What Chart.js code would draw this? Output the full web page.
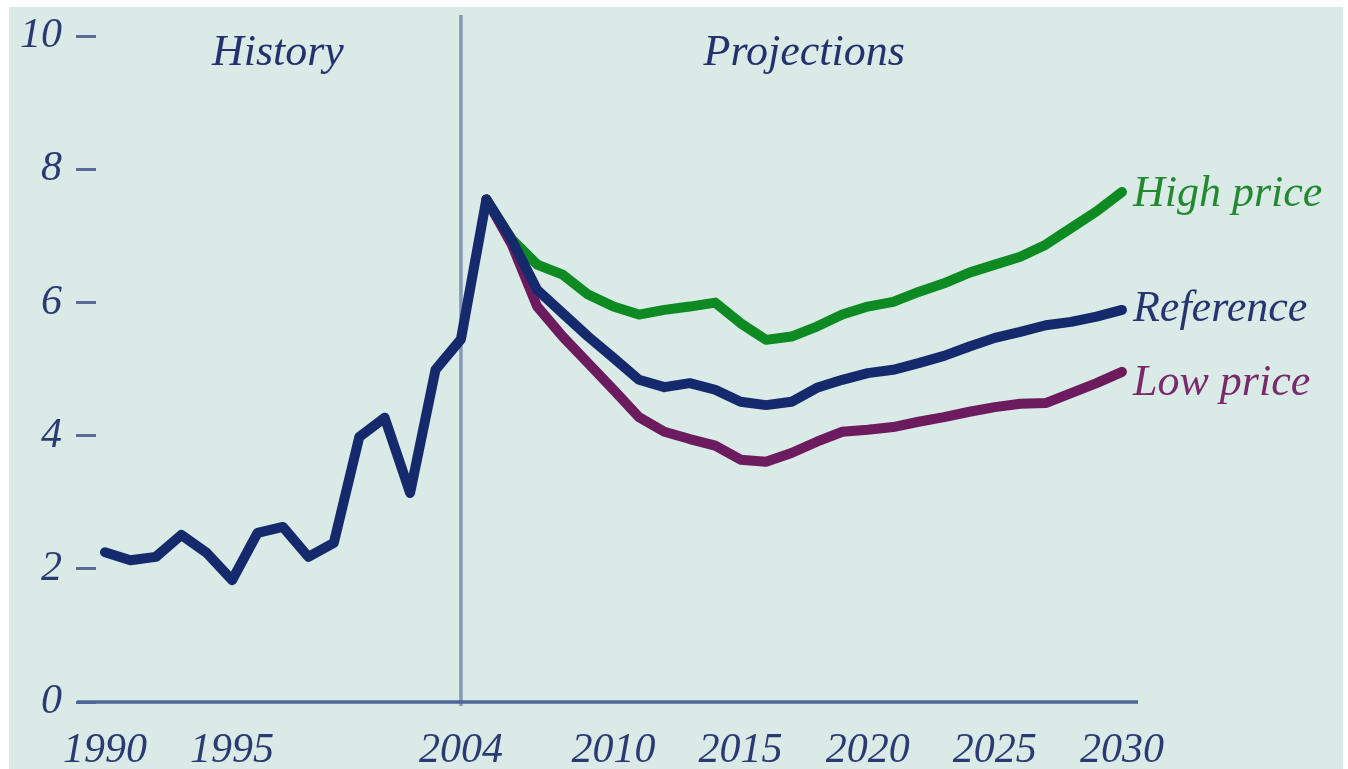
<!DOCTYPE html>
<html>
<head>
<meta charset="utf-8">
<script src="https://cdn.jsdelivr.net/npm/chart.js@4"></script>
<style>
body { margin: 0; background: #fff; }
#wrap { position: absolute; left: 9px; top: 7px; width: 1334px; height: 762px; background: #d9eae7; }
</style>
</head>
<body>
<div id="wrap"><canvas id="myChart" width="1334" height="762"></canvas></div>
<script>
// history (1990-2005)
const histYears = [1990, 1991, 1992, 1993, 1994, 1995, 1996, 1997, 1998, 1999, 2000, 2001, 2002, 2003, 2004, 2005];
const histValues = [2.25, 2.13, 2.18, 2.51, 2.24, 1.83, 2.54, 2.63, 2.18, 2.39, 3.98, 4.27, 3.14, 4.99, 5.45, 7.55];

// projections (2005-2030)
const projYears = [2005, 2006, 2007, 2008, 2009, 2010, 2011, 2012, 2013, 2014, 2015, 2016, 2017, 2018, 2019, 2020,
    2021, 2022, 2023, 2024, 2025, 2026, 2027, 2028, 2029, 2030];
const refValues = [7.55, 6.94, 6.19, 5.84, 5.49, 5.17, 4.84, 4.73, 4.79, 4.69, 4.51, 4.46, 4.51, 4.72, 4.84, 4.94,
    4.99, 5.09, 5.20, 5.34, 5.47, 5.56, 5.66, 5.71, 5.79, 5.89];
const highValues = [7.55, 6.95, 6.57, 6.42, 6.12, 5.94, 5.82, 5.89, 5.94, 6.00, 5.69, 5.44, 5.49, 5.64, 5.82, 5.94,
    6.01, 6.16, 6.29, 6.45, 6.57, 6.69, 6.87, 7.12, 7.37, 7.66];
const lowValues = [7.55, 6.87, 5.94, 5.49, 5.09, 4.69, 4.28, 4.06, 3.95, 3.85, 3.64, 3.61, 3.74, 3.91, 4.06, 4.09,
    4.13, 4.21, 4.28, 4.36, 4.43, 4.48, 4.49, 4.64, 4.79, 4.96];

const xTickYears = [1990, 1995, 2004, 2010, 2015, 2020, 2025, 2030];
const yTickValues = [0, 2, 4, 6, 8, 10];
const seriesNames = ['High price', 'Reference', 'Low price'];
const periodLabels = ['History', 'Projections'];

const serif = "'Liberation Serif', 'Times New Roman', serif";

function pts(xs, ys) {
    return xs.map((x, i) => ({ x: x, y: ys[i] }));
}

const refPoints = pts(histYears, histValues).concat(pts(projYears, refValues).slice(1));

const overlay = {
    id: 'overlay',
    beforeDatasetsDraw(chart) {
        const { ctx, chartArea } = chart;
        const x = chart.scales.x, y = chart.scales.y;
        const y0 = y.getPixelForValue(0);
        ctx.save();
        // divider at 2004
        ctx.strokeStyle = '#8797b7';
        ctx.lineWidth = 3.5;
        const xd = x.getPixelForValue(2004);
        ctx.beginPath();
        ctx.moveTo(xd, chartArea.top);
        ctx.lineTo(xd, y0 + 4);
        ctx.stroke();
        // baseline
        ctx.strokeStyle = '#4c6798';
        ctx.lineWidth = 3.5;
        ctx.beginPath();
        ctx.moveTo(chartArea.left - 19, y0);
        ctx.lineTo(chartArea.right, y0);
        ctx.stroke();
        ctx.restore();
    },
    afterDatasetsDraw(chart) {
        const { ctx } = chart;
        const x = chart.scales.x, y = chart.scales.y;
        ctx.save();
        ctx.font = 'italic 44px ' + serif;
        ctx.textBaseline = 'alphabetic';
        ctx.textAlign = 'center';
        ctx.fillStyle = '#24316d';
        ctx.fillText(periodLabels[0], x.getPixelForValue(1996.8), y.getPixelForValue(9.57));
        ctx.fillText(periodLabels[1], x.getPixelForValue(2017.5), y.getPixelForValue(9.57));

        // end labels
        ctx.textAlign = 'left';
        ctx.textBaseline = 'middle';
        const ends = [
            { name: seriesNames[0], v: highValues[highValues.length - 1], dy: 2, color: '#22892f' },
            { name: seriesNames[1], v: refValues[refValues.length - 1], dy: 0, color: '#27346f' },
            { name: seriesNames[2], v: lowValues[lowValues.length - 1], dy: 12, color: '#7a2a6b' }
        ];
        const xe = x.getPixelForValue(2030) + 11;
        ends.forEach(e => {
            ctx.fillStyle = e.color;
            ctx.fillText(e.name, xe, y.getPixelForValue(e.v) + e.dy);
        });
        ctx.restore();
    }
};

const ctx = document.getElementById('myChart');
new Chart(ctx, {
    type: 'line',
    data: {
        datasets: [
            { label: seriesNames[0], data: pts(projYears, highValues), borderColor: '#0e8a22', order: 3 },
            { label: seriesNames[2], data: pts(projYears, lowValues), borderColor: '#6c1c5e', order: 2 },
            { label: seriesNames[1], data: refPoints, borderColor: '#152a6c', order: 1 }
        ]
    },
    options: {
        responsive: false,
        animation: false,
        elements: {
            point: { radius: 0 },
            line: { borderWidth: 10, borderJoinStyle: 'round', borderCapStyle: 'round', tension: 0 }
        },
        layout: { padding: { top: 8, right: 205, left: 0, bottom: 0 } },
        plugins: { legend: { display: false }, tooltip: { enabled: false } },
        scales: {
            x: {
                type: 'linear',
                min: 1989.646,
                max: 2030.63,
                afterBuildTicks: (s) => { s.ticks = xTickYears.map(v => ({ value: v })); },
                afterFit: (s) => { s.height = 67; s.paddingLeft = 0; s.paddingRight = 0; },
                grid: { display: false, drawTicks: false },
                border: { display: false },
                ticks: {
                    padding: 24,
                    color: '#2b3a72',
                    font: { family: serif, style: 'italic', size: 42 },
                    maxRotation: 0,
                    autoSkip: false,
                    callback: (v) => String(v)
                }
            },
            y: {
                min: 0,
                max: 10.32,
                afterBuildTicks: (s) => { s.ticks = yTickValues.map(v => ({ value: v })); },
                afterFit: (s) => { s.width = 87; s.paddingTop = 0; s.paddingBottom = 0; },
                grid: { drawOnChartArea: false, drawTicks: true, tickLength: 20, tickColor: '#5a6b98', tickWidth: 3 },
                border: { display: false },
                ticks: {
                    padding: 14,
                    color: '#2b3a72',
                    font: { family: serif, style: 'italic', size: 42 }
                }
            }
        }
    },
    plugins: [overlay]
});
</script>
</body>
</html>
